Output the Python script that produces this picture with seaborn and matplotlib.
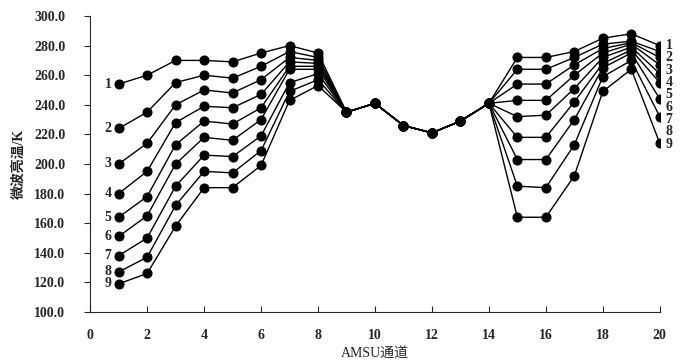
import matplotlib
matplotlib.use("Agg")
import matplotlib.pyplot as plt
import numpy as np
import pandas as pd
import seaborn as sns

# AMSU channels 1-20, brightness temperature (K) for 9 cases
channels = list(range(1, 21))
tb_s1 = [254, 260, 270, 270, 269, 275, 280, 275, 235, 241, 226, 221, 229, 241, 272, 272, 276, 285, 288, 280]
tb_s2 = [224, 235, 255, 260, 258, 266, 276, 272, 235, 241, 226, 221, 229, 241, 264, 264, 272, 281, 283, 276]
tb_s3 = [200, 214, 240, 250, 248, 257, 272, 270, 235, 241, 226, 221, 229, 241, 254, 254, 267, 278, 282, 272]
tb_s4 = [180, 195, 228, 239, 238, 247, 269, 268, 235, 241, 226, 221, 229, 241, 243, 243, 260, 275, 281, 267]
tb_s5 = [164, 178, 213, 229, 227, 238, 266, 266, 235, 241, 226, 221, 229, 241, 232, 233, 251, 272, 279, 261]
tb_s6 = [151, 165, 200, 218, 216, 230, 264, 264, 235, 241, 226, 221, 229, 241, 218, 218, 242, 268, 277, 255]
tb_s7 = [138, 150, 185, 206, 205, 219, 255, 261, 235, 241, 226, 221, 229, 241, 203, 203, 230, 265, 275, 244]
tb_s8 = [127, 137, 172, 195, 194, 209, 249, 257, 235, 241, 226, 221, 229, 241, 185, 184, 213, 259, 270, 232]
tb_s9 = [119, 126, 158, 184, 184, 199, 243, 253, 235, 241, 226, 221, 229, 241, 164, 164, 192, 249, 264, 214]
series_names = ["1", "2", "3", "4", "5", "6", "7", "8", "9"]

all_series = [tb_s1, tb_s2, tb_s3, tb_s4, tb_s5, tb_s6, tb_s7, tb_s8, tb_s9]
df = pd.DataFrame({
    "channel": channels * len(all_series),
    "tb": sum(all_series, []),
    "case": np.repeat(series_names, len(channels)),
})

sns.set_style("ticks")
plt.rcParams["font.family"] = ["Liberation Serif", "Noto Sans CJK SC", "DejaVu Sans"]

fig = plt.figure(figsize=(6.83, 3.64), dpi=100)
ax = fig.add_axes([0.132, 0.143, 0.834, 0.813])

sns.lineplot(data=df, x="channel", y="tb", units="case", estimator=None,
             color="black", marker="o", markersize=6.5, markeredgecolor="black",
             linewidth=1.0, legend=False, ax=ax)

# case numbers at the left end
for name, s in zip(series_names, all_series):
    ax.text(channels[0] - 0.25, s[0], name, ha="right", va="center",
            fontsize=10, fontweight="bold")

# case numbers at the right end, spread out
for name, ypos in zip(series_names, np.linspace(280, 213.5, len(series_names))):
    ax.text(channels[-1] + 0.2, ypos, name, ha="left", va="center",
            fontsize=10, fontweight="bold")

ax.set_xlim(0, 20)
ax.set_ylim(100, 300)
ax.set_xticks(range(0, 21, 2))
ax.set_yticks(range(100, 301, 20))
ax.set_yticklabels([f"{v:.1f}" for v in range(100, 301, 20)])
ax.tick_params(axis="x", direction="in", length=4, pad=12, labelsize=10)
ax.tick_params(axis="y", direction="out", length=4, pad=14, labelsize=10)
for lab in ax.get_xticklabels() + ax.get_yticklabels():
    lab.set_fontweight("bold")

ax.set_xlabel("AMSU通道", fontsize=10, labelpad=4)
ax.set_ylabel("微波亮温/K", fontsize=10, labelpad=6, fontweight="bold")
sns.despine(ax=ax)

fig.savefig("out.png", dpi=100)
